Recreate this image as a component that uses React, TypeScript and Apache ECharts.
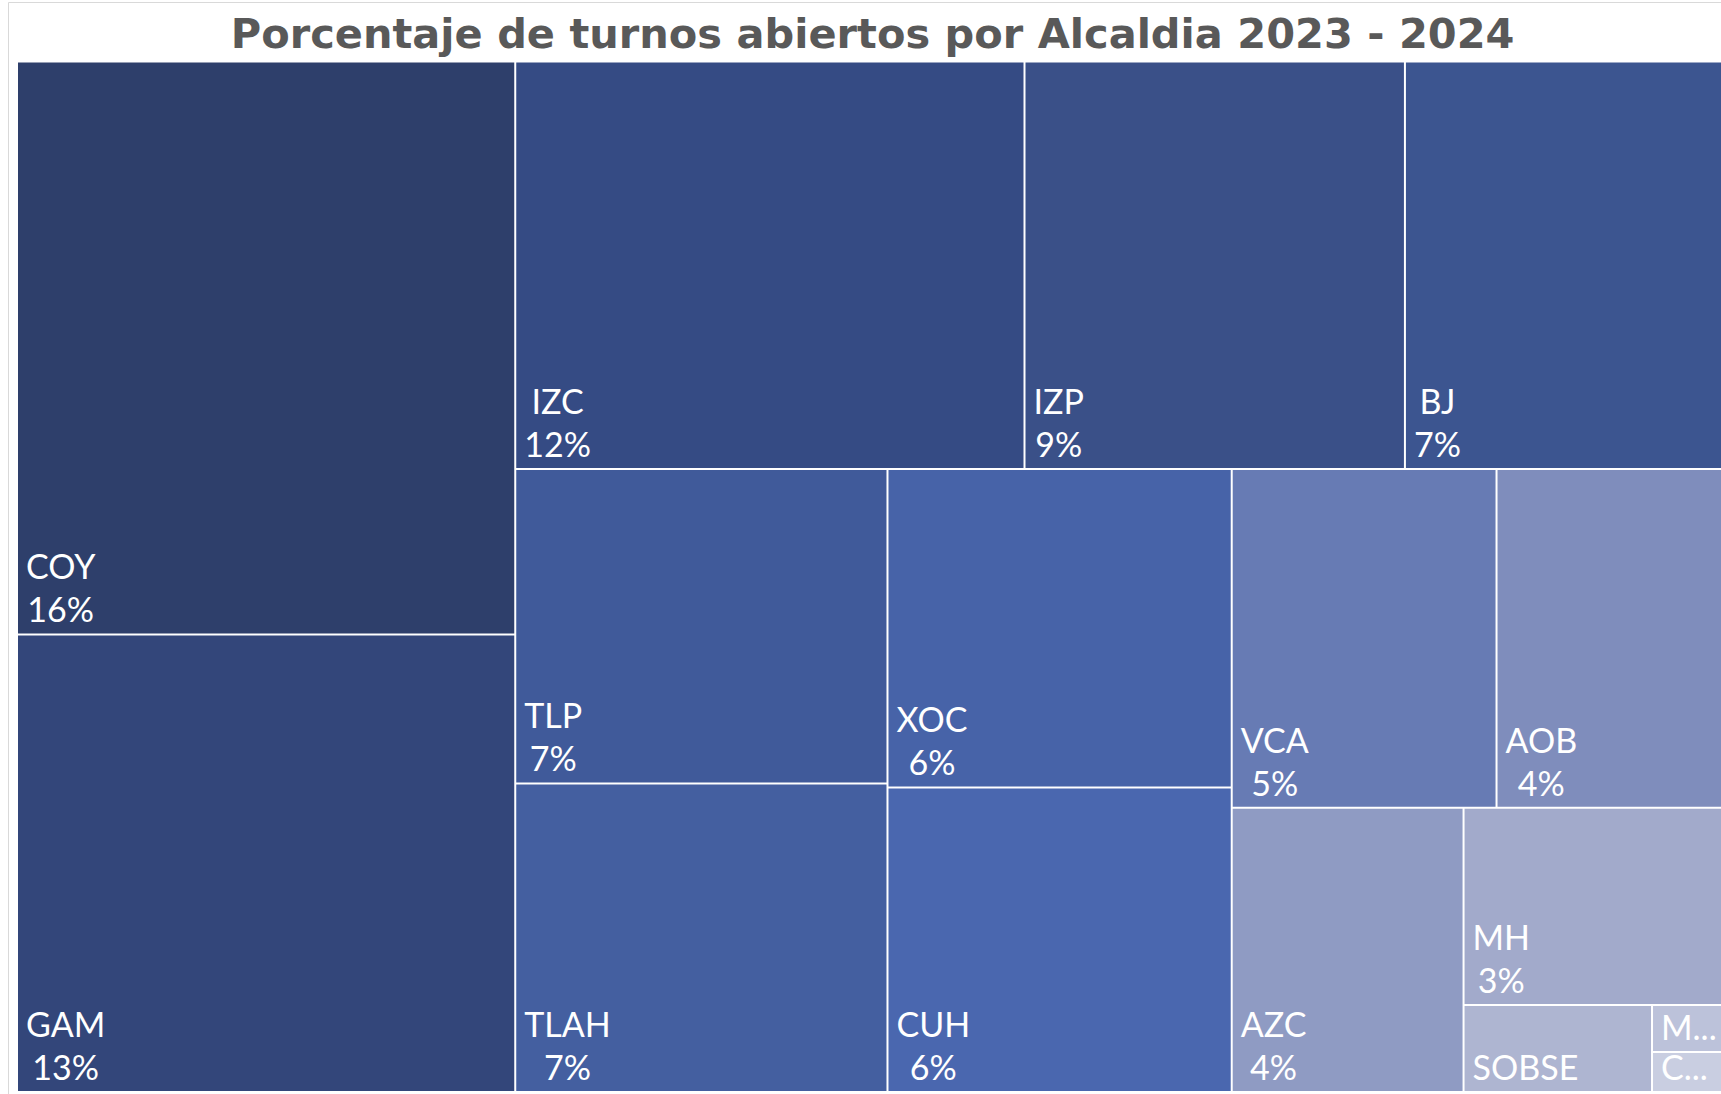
import React, { useEffect, useRef } from 'react';
import * as echarts from 'echarts';

const TITLE = 'Porcentaje de turnos abiertos por Alcaldia 2023 - 2024';

const categories = ['COY', 'GAM', 'IZC', 'IZP', 'BJ', 'TLP', 'TLAH', 'XOC', 'CUH', 'VCA', 'AOB', 'AZC', 'MH', 'SOBSE', 'M...', 'C...'];
const values = [16.2, 12.94, 11.78, 8.8, 7.45, 6.64, 6.52, 6.22, 5.95, 5.09, 4.43, 3.74, 2.95, 0.93, 0.2, 0.17];
const colors = ['#2E3F6B', '#33467A', '#354B84', '#3A5088', '#3C5590', '#405A9A', '#445FA0', '#4763A8', '#4A67AF', '#677BB4', '#7F8DBC', '#8F9BC3', '#A2AACB', '#AEB5D1', '#BCC2DA', '#C9CEE1'];
// how the tiles nest (indices into categories)
const grouping: any[] = [[0, 1], [[2, 3, 4], [[5, 6], [[7, 8], [[9, 10], [11, [12, [13, [14, 15]]]]]]]]];

const FONT_SIZE = 34;
const LINE_H = 43;
const FONT_FAMILY = 'Lato';

let ctx: CanvasRenderingContext2D | null = null;
function measure(text: string): number {
  if (!ctx) ctx = document.createElement('canvas').getContext('2d');
  if (!ctx) return text.length * FONT_SIZE * 0.6;
  ctx.font = `${FONT_SIZE}px ${FONT_FAMILY}`;
  return ctx.measureText(text).width;
}

function leaf(i: number) {
  const name = categories[i];
  const v = values[i];
  const pct = Math.round(v) + '%';
  const showPct = v >= 1;
  const w = showPct ? Math.max(measure(name), measure(pct)) : measure(name);
  const lh = v < 0.5 ? 34 : LINE_H;
  return {
    name,
    value: v,
    itemStyle: { color: colors[i], borderColor: '#ffffff', borderWidth: 1 },
    label: {
      position: [8 + w / 2, '100%'],
      formatter: showPct ? '{b}\n' + pct : '{b}',
      lineHeight: lh,
      offset: [0, -3 - (LINE_H - lh) / 2],
    },
  };
}

function toNode(x: any): any {
  if (typeof x === 'number') return leaf(x);
  return {
    name: '',
    children: x.map(toNode),
    itemStyle: { borderWidth: 0, gapWidth: 0, borderColor: '#ffffff' },
  };
}

export default function App() {
  const ref = useRef<HTMLDivElement>(null);
  useEffect(() => {
    if (!ref.current) return;
    const chart = echarts.init(ref.current, null, { renderer: 'svg' });
    chart.setOption({
      animation: false,
      backgroundColor: '#ffffff',
      graphic: [
        {
          type: 'rect',
          silent: true,
          z: -1,
          shape: { x: 8.5, y: 2.5, width: 1760, height: 1120 },
          style: { fill: 'none', stroke: '#d9d9d9', lineWidth: 1 },
        },
        {
          type: 'text',
          x: 872.6,
          y: 33,
          style: {
            text: TITLE,
            fontFamily: '"DejaVu Sans"',
            fontWeight: 'bold',
            fontSize: 41.5,
            fill: '#595959',
            align: 'center',
            verticalAlign: 'middle',
          },
        },
      ],
      series: [
        {
          type: 'treemap',
          left: 17,
          top: 61.5,
          width: 1710,
          height: 1030.5,
          roam: false,
          nodeClick: false,
          silent: true,
          sort: false,
          squareRatio: 1.23,
          breadcrumb: { show: false },
          itemStyle: { borderWidth: 0, gapWidth: 0, borderColor: '#ffffff' },
          upperLabel: { show: false },
          label: {
            show: true,
            color: '#ffffff',
            fontSize: FONT_SIZE,
            fontFamily: FONT_FAMILY,
            lineHeight: LINE_H,
            padding: 0,
            align: 'center',
            verticalAlign: 'bottom',
            overflow: 'truncate',
          },
          data: grouping.map(toNode),
        },
      ],
    });
    return () => chart.dispose();
  }, []);
  return (
    <div
      ref={ref}
      style={{ position: 'fixed', left: 0, top: 0, width: 1721, height: 1094, background: '#fff' }}
    />
  );
}
